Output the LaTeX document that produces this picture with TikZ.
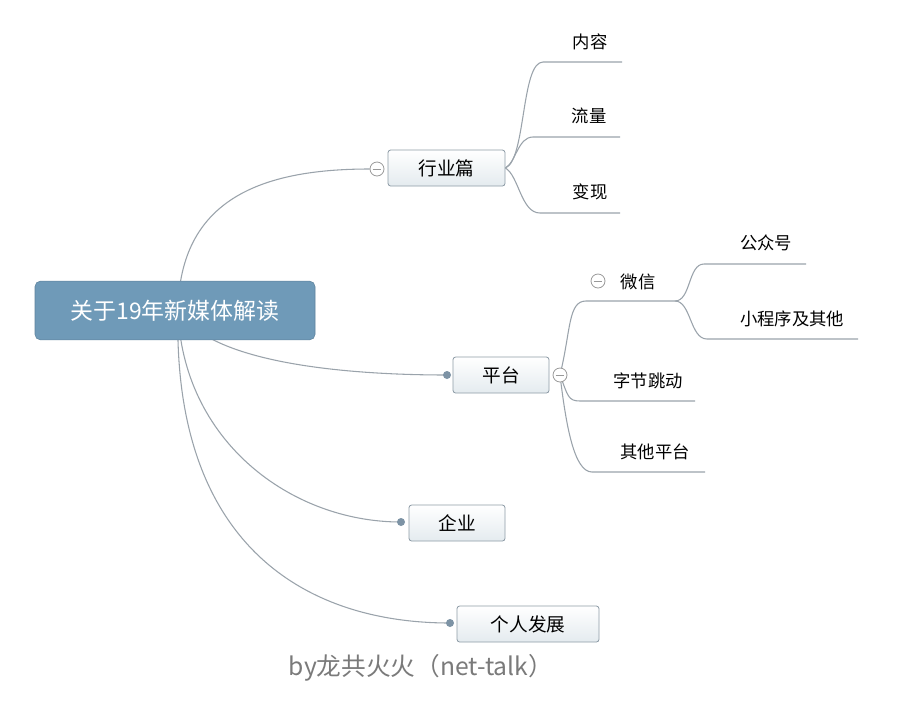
\documentclass[tikz,border=0pt]{standalone}
\usepackage{fontspec}
\setmainfont{Noto Sans CJK SC}
\usetikzlibrary{backgrounds}
\pgfdeclarelayer{paper}
\pgfsetlayers{paper,background,main}
\definecolor{rootfill}{HTML}{6F9AB8}
\definecolor{linec}{HTML}{9AA3AB}
\definecolor{boxborder}{HTML}{8E9CA7}
\definecolor{boxbot}{HTML}{E4EBEF}
\definecolor{dotc}{HTML}{7D93A5}
\definecolor{footc}{HTML}{7A7A7A}
\tikzset{
  conn/.style={draw=linec, line width=0.8pt},
  rootbox/.style={fill=rootfill, draw=rootfill!85!black, rounded corners=4pt, minimum width=210pt, minimum height=44pt, text=white, font=\fontsize{17.2}{19}\selectfont},
  topicbox/.style={draw=boxborder, line width=0.6pt, top color=white, bottom color=boxbot, rounded corners=2pt, minimum height=27pt, font=\fontsize{14}{16}\selectfont},
  leaf/.style={font=\fontsize{13}{15}\selectfont, inner sep=1pt},
  collapse/.style={circle, draw=gray!80, fill=white, line width=0.6pt, minimum size=10.5pt, inner sep=0pt,
    path picture={\draw[gray!80, line width=0.6pt] ([xshift=-3.2pt]path picture bounding box.center) -- ([xshift=3.2pt]path picture bounding box.center);}},
  dotmark/.style={circle, fill=dotc, minimum size=6pt, inner sep=0pt}
}
\begin{document}
\begin{tikzpicture}[x=0.75pt, y=-0.75pt]
\begin{pgfonlayer}{paper}
\useasboundingbox[fill=white] (0,0) rectangle (900,708);
\end{pgfonlayer}

% main nodes
\node[rootbox] (root) at (175,310.5) {关于19年新媒体解读};
\coordinate (hub) at (178,310);
\node[topicbox, minimum width=87.75pt] (hy) at (446.5,168) {行业篇};
\node[topicbox, minimum width=72pt] (pt) at (501,375) {平台};
\node[topicbox, minimum width=72pt] (qy) at (457,523) {企业};
\node[topicbox, minimum width=106.5pt] (gr) at (528,624) {个人发展};

\node[dotmark] (ptd) at (447,375) {};
\node[dotmark] (qyd) at (401,522) {};
\node[dotmark] (grd) at (450,623) {};
\node[collapse] (hyc) at (377,169) {};
\node[collapse] (ptc) at (560,375) {};
\node[collapse] (wxc) at (598,281) {};

% leaf texts
\node[leaf] (nr) at (590,42) {内容};
\node[leaf] (ll) at (589,116) {流量};
\node[leaf] (bx) at (590,192) {变现};
\node[leaf] (wx) at (638,282) {微信};
\node[leaf] (zj) at (648,381) {字节跳动};
\node[leaf] (qt) at (655,452) {其他平台};
\node[leaf] (gz) at (766,243) {公众号};
\node[leaf] (xc) at (792,319) {小程序及其他};

% underline ends
\coordinate (nrs) at (543,62);  \coordinate (nre) at (622,62);
\coordinate (lls) at (533,137); \coordinate (lle) at (620,137);
\coordinate (bxs) at (540,213); \coordinate (bxe) at (620,213);
\coordinate (wxs) at (586,301); \coordinate (wxe) at (675,301);
\coordinate (zjs) at (580,401); \coordinate (zje) at (695,401);
\coordinate (qts) at (592,472); \coordinate (qte) at (705,472);
\coordinate (gzs) at (704,264); \coordinate (gze) at (806,264);
\coordinate (xcs) at (707,339); \coordinate (xce) at (858,339);

\node[font=\fontsize{18.5}{21}\selectfont, text=footc] (foot) at (421,668) {by龙共火火（net-talk）};

\begin{scope}[on background layer]
  % root connectors
  \draw[conn] (hub) .. controls (180,200) and (260,169) .. (hyc.west);
  \draw[conn] (hub) .. controls (212,368) and (370,375) .. (ptd.center);
  \draw[conn] (hub) .. controls (182,440) and (290,522) .. (qyd.center);
  \draw[conn] (hub) .. controls (172,540) and (300,623) .. (grd.center);
  % 行业篇 children
  \draw[conn] (hy.east) .. controls (526,160) and (521,62) .. (nrs) -- (nre);
  \draw[conn] (hy.east) .. controls (516,162) and (518,137) .. (lls) -- (lle);
  \draw[conn] (hy.east) .. controls (519,176) and (521,213) .. (bxs) -- (bxe);
  % 平台 children
  \draw[conn] (ptc.center) .. controls (571,330) and (568,301) .. (wxs) -- (wxe);
  \draw[conn] (ptc.center) .. controls (568,396) and (568,401) .. (zjs) -- (zje);
  \draw[conn] (ptc.center) .. controls (566,425) and (574,472) .. (qts) -- (qte);
  % 微信 children
  \draw[conn] (wxe) .. controls (691,301) and (688,264) .. (gzs) -- (gze);
  \draw[conn] (wxe) .. controls (691,301) and (690,339) .. (xcs) -- (xce);
\end{scope}
\end{tikzpicture}
\end{document}
